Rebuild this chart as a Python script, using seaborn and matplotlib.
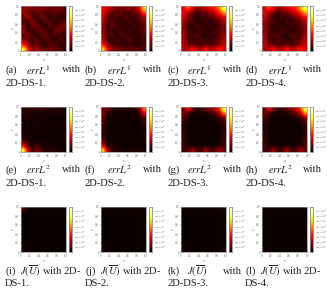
import numpy as np
import matplotlib
matplotlib.use("Agg")
import matplotlib.pyplot as plt
import seaborn as sns

sns.set_theme(style="white")
plt.rcParams["font.family"] = ["Liberation Serif", "DejaVu Serif"]
plt.rcParams["mathtext.fontset"] = "stix"

W, H = 327, 292

# Values (relative to each panel's colour-bar scale), top row first
errL1_ds1 = [[.22,.25,.22,.20,.22,.20,.16,.18,.20,.14],
             [.25,.22,.10,.16,.18,.08,.12,.16,.12,.10],
             [.16,.28,.14,.06,.18,.14,.06,.12,.06,.08],
             [.12,.10,.22,.14,.05,.16,.14,.05,.10,.14],
             [.20,.06,.14,.20,.10,.05,.16,.10,.18,.20],
             [.22,.14,.06,.14,.18,.10,.06,.18,.20,.10],
             [.14,.20,.14,.05,.12,.18,.08,.12,.06,.12],
             [.22,.18,.08,.16,.06,.14,.12,.05,.14,.08],
             [.45,.28,.10,.20,.10,.05,.14,.12,.08,.06],
             [.90,.50,.20,.28,.18,.14,.18,.18,.14,.10]]
errL1_ds2 = [[.42,.38,.28,.20,.20,.22,.20,.24,.40,.85],
             [.38,.26,.12,.14,.16,.10,.12,.16,.24,.55],
             [.32,.16,.08,.14,.06,.14,.08,.10,.14,.30],
             [.30,.12,.16,.05,.12,.06,.14,.05,.10,.22],
             [.26,.06,.12,.14,.05,.10,.05,.12,.06,.18],
             [.24,.14,.06,.08,.14,.04,.12,.06,.10,.16],
             [.26,.12,.14,.05,.10,.14,.05,.10,.05,.12],
             [.30,.10,.05,.12,.06,.08,.14,.06,.08,.10],
             [.45,.22,.12,.08,.12,.06,.10,.05,.06,.12],
             [.80,.42,.22,.18,.16,.14,.14,.16,.12,.14]]
errL1_ds3 = [[.38,.60,.42,.22,.30,.34,.42,.50,.68,.98],
             [.40,.32,.18,.08,.14,.18,.26,.34,.48,.72],
             [.34,.22,.08,.05,.10,.08,.12,.20,.28,.40],
             [.28,.18,.12,.06,.05,.12,.06,.10,.16,.30],
             [.24,.10,.05,.12,.08,.05,.10,.06,.12,.22],
             [.26,.14,.08,.05,.12,.08,.05,.12,.10,.22],
             [.30,.12,.10,.14,.06,.05,.12,.08,.14,.26],
             [.28,.16,.06,.10,.12,.08,.06,.12,.16,.30],
             [.32,.18,.12,.14,.10,.14,.12,.14,.20,.34],
             [.32,.28,.45,.34,.26,.48,.30,.34,.48,.38]]
errL1_ds4 = [[.36,.58,.42,.24,.30,.36,.44,.52,.70,.98],
             [.40,.30,.18,.10,.14,.18,.28,.36,.50,.74],
             [.34,.20,.08,.05,.12,.08,.12,.20,.30,.42],
             [.28,.16,.14,.06,.05,.10,.06,.12,.18,.30],
             [.24,.12,.05,.10,.08,.05,.12,.06,.12,.24],
             [.26,.14,.08,.05,.14,.08,.05,.10,.12,.22],
             [.30,.10,.12,.14,.06,.05,.14,.08,.12,.26],
             [.28,.16,.06,.12,.10,.08,.06,.14,.16,.30],
             [.34,.18,.14,.12,.10,.14,.10,.14,.22,.34],
             [.32,.30,.45,.32,.28,.48,.30,.36,.48,.38]]
errL2_ds1 = [[.05,.08,.06,.05,.10,.06,.04,.06,.05,.03],
             [.06,.05,.02,.02,.03,.01,.02,.03,.02,.02],
             [.03,.05,.02,.01,.02,.02,.01,.02,.01,.01],
             [.02,.01,.03,.02,.01,.02,.02,.01,.01,.02],
             [.03,.01,.02,.03,.01,.01,.02,.01,.02,.03],
             [.05,.02,.01,.02,.02,.01,.01,.02,.02,.01],
             [.05,.03,.02,.01,.01,.02,.01,.01,.01,.01],
             [.12,.05,.02,.02,.01,.02,.01,.01,.01,.01],
             [.38,.12,.03,.10,.03,.01,.02,.01,.01,.01],
             [.92,.38,.08,.22,.10,.04,.05,.06,.03,.01]]
errL2_ds2 = [[.20,.16,.08,.04,.04,.05,.04,.06,.16,.62],
             [.18,.07,.02,.02,.02,.01,.01,.02,.06,.34],
             [.14,.03,.01,.02,.01,.02,.01,.01,.02,.12],
             [.12,.02,.02,.01,.01,.01,.02,.01,.01,.06],
             [.08,.01,.02,.02,.01,.01,.01,.01,.01,.04],
             [.07,.02,.01,.01,.02,.01,.01,.01,.01,.03],
             [.08,.02,.02,.01,.01,.02,.01,.01,.01,.02],
             [.14,.02,.01,.01,.01,.01,.02,.01,.01,.02],
             [.30,.07,.02,.01,.02,.01,.01,.01,.01,.02],
             [.82,.24,.06,.04,.04,.03,.03,.04,.02,.03]]
errL2_ds3 = [[.16,.42,.20,.05,.10,.12,.22,.30,.50,.98],
             [.18,.10,.03,.01,.02,.03,.06,.12,.26,.62],
             [.14,.05,.01,.01,.01,.01,.01,.04,.08,.18],
             [.08,.03,.01,.01,.01,.01,.01,.01,.03,.08],
             [.05,.01,.01,.01,.01,.01,.01,.01,.01,.05],
             [.07,.02,.01,.01,.01,.01,.01,.01,.01,.05],
             [.09,.01,.01,.02,.01,.01,.01,.01,.02,.07],
             [.08,.02,.01,.01,.01,.01,.01,.01,.02,.09],
             [.10,.03,.01,.02,.01,.02,.01,.02,.04,.10],
             [.10,.08,.26,.12,.07,.28,.09,.12,.28,.14]]
errL2_ds4 = [[.14,.40,.20,.06,.10,.14,.24,.32,.52,.98],
             [.18,.09,.03,.01,.02,.03,.08,.14,.28,.64],
             [.14,.04,.01,.01,.01,.01,.01,.04,.09,.20],
             [.08,.03,.02,.01,.01,.01,.01,.01,.03,.09],
             [.05,.01,.01,.01,.01,.01,.01,.01,.01,.06],
             [.07,.02,.01,.01,.02,.01,.01,.01,.01,.05],
             [.09,.01,.01,.02,.01,.01,.02,.01,.01,.07],
             [.08,.02,.01,.01,.01,.01,.01,.02,.02,.09],
             [.11,.03,.02,.01,.01,.02,.01,.02,.05,.11],
             [.10,.09,.25,.11,.08,.28,.09,.13,.28,.14]]
J_ds1 = [[.14,.01,.01,.01,.01,.01,.01,.01,.01,.02],
         [.01,.0,.0,.0,.0,.0,.0,.0,.0,.0],
         [.01,.0,.0,.0,.0,.0,.0,.0,.0,.0],
         [.01,.0,.0,.0,.0,.0,.0,.0,.0,.0],
         [.01,.0,.0,.0,.0,.0,.0,.0,.0,.0],
         [.01,.0,.0,.0,.0,.0,.0,.0,.0,.0],
         [.01,.0,.0,.0,.0,.0,.0,.0,.0,.0],
         [.01,.0,.0,.0,.0,.0,.0,.0,.0,.0],
         [.01,.0,.0,.0,.0,.0,.0,.0,.0,.0],
         [.03,.01,.01,.01,.01,.01,.01,.01,.01,.02]]
J_ds2 = [[.02,.01,.01,.01,.01,.01,.01,.01,.01,.02],
         [.01,.0,.0,.0,.0,.0,.0,.0,.0,.01],
         [.01,.0,.0,.0,.0,.0,.0,.0,.0,.01],
         [.01,.0,.0,.0,.0,.0,.0,.0,.0,.01],
         [.01,.0,.0,.0,.0,.0,.0,.0,.0,.01],
         [.01,.0,.0,.0,.0,.0,.0,.0,.0,.01],
         [.01,.0,.0,.0,.0,.0,.0,.0,.0,.01],
         [.01,.0,.0,.0,.0,.0,.0,.0,.0,.01],
         [.01,.0,.0,.0,.0,.0,.0,.0,.0,.01],
         [.02,.01,.01,.01,.01,.01,.01,.01,.01,.02]]
J_ds3 = [[.02,.01,.01,.01,.01,.01,.01,.01,.01,.04],
         [.01,.0,.0,.0,.0,.0,.0,.0,.0,.01],
         [.01,.0,.0,.0,.0,.0,.0,.0,.0,.01],
         [.01,.0,.0,.0,.0,.0,.0,.0,.0,.01],
         [.01,.0,.0,.0,.0,.0,.0,.0,.0,.01],
         [.01,.0,.0,.0,.0,.0,.0,.0,.0,.01],
         [.01,.0,.0,.0,.0,.0,.0,.0,.0,.01],
         [.01,.0,.0,.0,.0,.0,.0,.0,.0,.01],
         [.01,.0,.0,.0,.0,.0,.0,.0,.0,.01],
         [.03,.01,.01,.01,.01,.01,.01,.01,.01,.06]]
J_ds4 = [[.02,.01,.01,.01,.01,.01,.01,.01,.01,.02],
         [.01,.0,.0,.0,.0,.0,.0,.0,.0,.01],
         [.01,.0,.0,.0,.0,.0,.0,.0,.0,.01],
         [.01,.0,.0,.0,.0,.0,.0,.0,.0,.01],
         [.01,.0,.0,.0,.0,.0,.0,.0,.0,.01],
         [.01,.0,.0,.0,.0,.0,.0,.0,.0,.01],
         [.01,.0,.0,.0,.0,.0,.0,.0,.0,.01],
         [.01,.0,.0,.0,.0,.0,.0,.0,.0,.01],
         [.01,.0,.0,.0,.0,.0,.0,.0,.0,.01],
         [.02,.01,.01,.01,.01,.01,.01,.01,.01,.02]]

panels = [errL1_ds1, errL1_ds2, errL1_ds3, errL1_ds4,
          errL2_ds1, errL2_ds2, errL2_ds3, errL2_ds4,
          J_ds1, J_ds2, J_ds3, J_ds4]

letters = list("abcdefghijkl")
row_titles = [r"$errL^1$", r"$errL^2$", r"$J(\overline{U})$"]
datasets = ["2D-DS-1", "2D-DS-2", "2D-DS-3", "2D-DS-4"]
axis_tick_labels = ["0", "0.2", "0.4", "0.6", "0.8", "1.0"]
cbar_tick_labels = [r"$1.00\times10^{-7}$", r"$2.00\times10^{-7}$", r"$3.00\times10^{-7}$", r"$4.00\times10^{-7}$",
                    r"$5.00\times10^{-7}$", r"$6.00\times10^{-7}$", r"$7.00\times10^{-7}$", r"$8.00\times10^{-7}$"]

# Layout, in reference pixels
col_left = [21, 101, 181, 262]
col_caption = [5, 85, 167, 245]
col_with_end = [81, 162, 242, 322]
col_title = [26, 107, 187, 268]
row_top = [6, 107, 207]
row_caption = [70, 170, 271]
axes_size = 45
GREY = "#8a8a8a"
INK = "#222222"
VMAX = 1.2

fig = plt.figure(figsize=(W / 100, H / 100), dpi=100, facecolor="white")


def box(x, y, w, h):
    return [x / W, 1 - (y + h) / H, w / W, h / H]


def label(x, y, s, **kw):
    fig.text(x / W, 1 - y / H, s, fontsize=7.6, color=INK, va="center", **kw)


n = len(panels[0])
tick_pos = np.linspace(0, n, len(axis_tick_labels))
cbar_pos = np.linspace(0.12, 0.92, len(cbar_tick_labels)) * VMAX

for i, matrix in enumerate(panels):
    r, c = divmod(i, 4)
    x0, y0 = col_left[c], row_top[r]
    ax = fig.add_axes(box(x0, y0, axes_size, axes_size))
    cax = fig.add_axes(box(x0 + axes_size + 3, y0, 3, axes_size))
    sns.heatmap(np.array(matrix), ax=ax, cbar_ax=cax, cmap="hot", vmin=0, vmax=VMAX,
                xticklabels=False, yticklabels=False)
    # keep seaborn's axes and colour bar, and show the same cells smoothly as in the source figure
    ax.collections[0].set_visible(False)
    ax.imshow(np.array(matrix), cmap="hot", vmin=0, vmax=VMAX, extent=(0, n, n, 0),
              aspect="auto", interpolation="bilinear")
    ax.set_xlim(0, n)
    ax.set_ylim(n, 0)
    ax.set_xticks(tick_pos, axis_tick_labels)
    ax.set_yticks(tick_pos, axis_tick_labels[::-1])
    ax.tick_params(length=1, width=0.3, labelsize=2.0, pad=0.6, color=GREY, labelcolor="#555555",
                   bottom=True, left=True)
    ax.set_xlabel("x", fontsize=2.5, labelpad=0.5, color="#555555")
    ax.set_ylabel("y", fontsize=2.5, labelpad=0.5, color="#555555")
    for s in ax.spines.values():
        s.set_visible(True)
        s.set_color(GREY)
        s.set_linewidth(0.5)
    cax.set_yticks(cbar_pos, cbar_tick_labels)
    cax.minorticks_off()
    cax.tick_params(length=0.8, width=0.3, labelsize=1.6, pad=0.6, color=GREY, labelcolor="#555555", right=True)
    for s in cax.spines.values():
        s.set_visible(True)
        s.set_color(GREY)
        s.set_linewidth(0.4)

    yc = row_caption[r]
    name = datasets[c]
    if r < 2 or c == 2:
        label(col_caption[c], yc, f"({letters[i]})")
        label(col_title[c], yc, row_titles[r])
        label(col_with_end[c], yc, "with", ha="right")
        label(col_caption[c], yc + 13, name + ".")
    else:
        label(col_caption[c], yc, f"({letters[i]})  {row_titles[r]} with 2D-")
        label(col_caption[c], yc + 13, "DS-" + name[-1] + ".")

fig.savefig("out.png", dpi=100, facecolor="white")
